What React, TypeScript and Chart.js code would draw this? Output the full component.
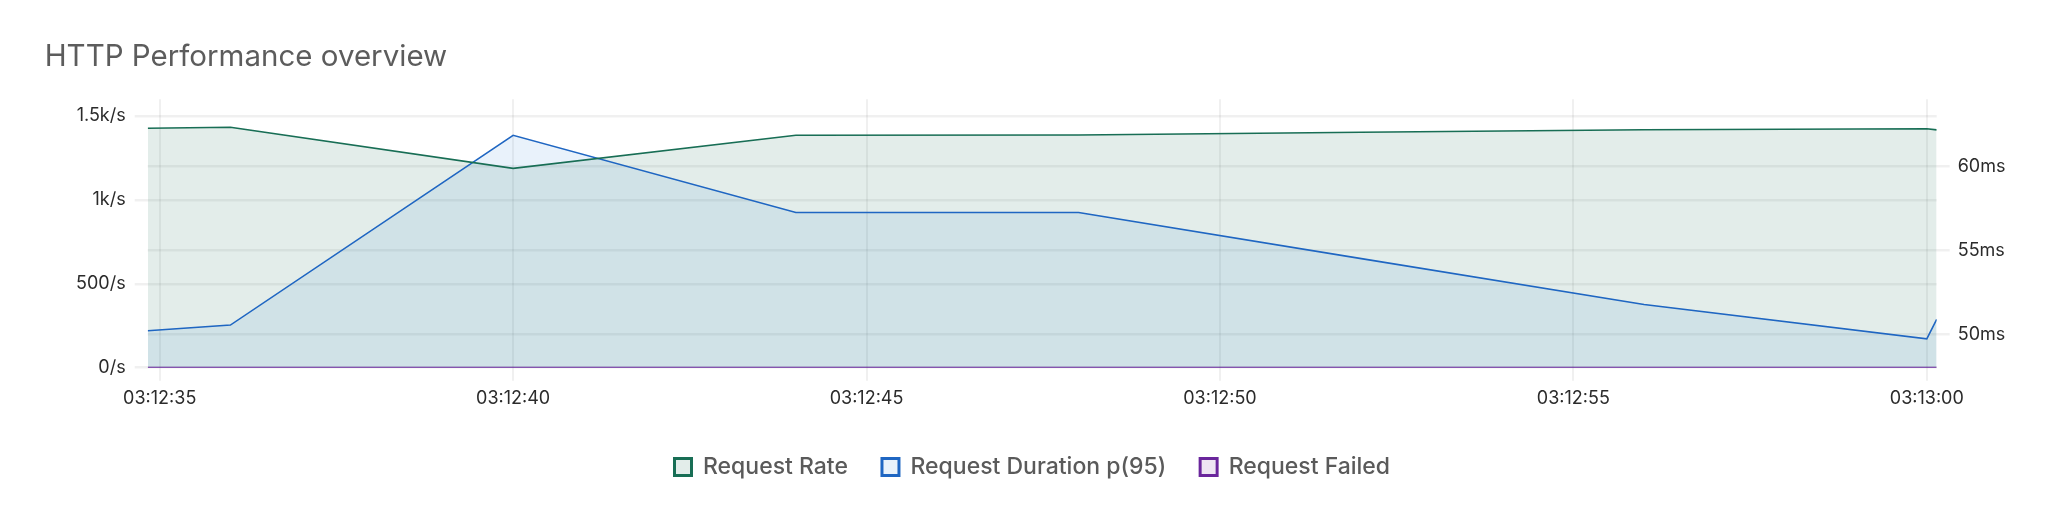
import { useEffect, useRef } from 'react';
import { Chart, registerables } from 'chart.js';

Chart.register(...registerables);

// seconds after 03:12:00
const timeSeconds = [34.83, 36, 40, 44, 48, 52, 56, 60, 60.14];
const requestRate = [1427, 1433, 1188, 1385, 1387, 1403, 1418, 1424, 1417];
const requestDurationP95 = [50.2, 50.54, 61.85, 57.25, 57.25, 54.5, 51.77, 49.72, 50.88];
const requestFailed = [0, 0, 0, 0, 0, 0, 0, 0, 0];

const timeTickValues = [35, 40, 45, 50, 55, 60];
const rateTickValues = [0, 500, 1000, 1500];
const durationTickValues = [50, 55, 60];

const seriesLabels = ['Request Rate', 'Request Duration p(95)', 'Request Failed'];
const chartTitle = 'HTTP Performance overview';

const FONT = 'Inter';
const LEGEND_PAD = 34;
const LEGEND_H = 82;

const pad2 = (n: number) => String(n).padStart(2, '0');
const fmtTime = (v: number) => {
  const total = 12 * 60 + Math.round(v);
  const m = Math.floor(total / 60);
  const s = total % 60;
  return `03:${pad2(m)}:${pad2(s)}`;
};
const fmtRate = (v: number) => {
  if (v === 0) return '0/s';
  if (v >= 1000) return `${v / 1000}k/s`;
  return `${v}/s`;
};
const fmtMs = (v: number) => `${v}ms`;

const toPoints = (vals: number[]) => vals.map((y, i) => ({ x: timeSeconds[i], y }));
const setTicks = (vals: number[]) => (s: any) => {
  s.ticks = vals.map((value) => ({ value }));
};

// fixes the legend's height and places its row where the reference has it
const legendPlacer = {
  id: 'legendPlacer',
  beforeLayout(chart: any) {
    const lg = chart.legend;
    if (lg && !lg.__patched) {
      const f = lg.fit;
      lg.fit = function () {
        f.call(this);
        this.height = LEGEND_H;
      };
      lg.__patched = true;
    }
  },
  afterLayout(chart: any) {
    const lg = chart.legend;
    if (!lg) return;
    const w = lg.right - lg.left;
    const lw = lg.lineWidths ? lg.lineWidths[0] : w;
    lg.left = (2 * 674.5 - w - LEGEND_PAD + lw) / 2;
    lg.right = lg.left + w;
    lg.top = 467 - LEGEND_PAD - 11.5;
    lg.bottom = lg.top + LEGEND_H;
    if (lg.adjustHitBoxes) lg.adjustHitBoxes();
  },
};

export default function App() {
  const ref = useRef<HTMLCanvasElement | null>(null);

  useEffect(() => {
    if (!ref.current) return;
    const tickFont = { family: FONT, size: 18 };
    const gridColor = 'rgba(0,0,0,0.06)';
    const chart = new Chart(ref.current, {
      type: 'line',
      data: {
        datasets: [
          {
            label: seriesLabels[0],
            data: toPoints(requestRate),
            borderColor: 'rgb(24,110,85)',
            backgroundColor: 'rgba(24,110,85,0.12)',
            borderWidth: 1.6,
            fill: 'origin',
            pointRadius: 0,
            tension: 0,
            yAxisID: 'y',
          },
          {
            label: seriesLabels[1],
            data: toPoints(requestDurationP95),
            borderColor: 'rgb(31,102,194)',
            backgroundColor: 'rgba(40,130,220,0.1)',
            borderWidth: 1.6,
            fill: 'origin',
            pointRadius: 0,
            tension: 0,
            yAxisID: 'y1',
          },
          {
            label: seriesLabels[2],
            data: toPoints(requestFailed),
            borderColor: 'rgb(106,38,156)',
            backgroundColor: 'rgba(112,40,160,0.12)',
            borderWidth: 2,
            fill: 'origin',
            pointRadius: 0,
            tension: 0,
            yAxisID: 'y',
          },
        ],
      },
      options: {
        animation: false,
        responsive: false,
        layout: { padding: { top: 0, left: 44.7, right: 11.3, bottom: 13.2 } },
        plugins: {
          filler: { drawTime: 'beforeDatasetsDraw' },
          title: {
            display: true,
            text: chartTitle,
            align: 'start',
            color: '#5c5c5c',
            font: { family: FONT, size: 29.5, weight: '400' },
            padding: { top: 39.5, bottom: 24.3 },
          },
          legend: {
            position: 'bottom',
            labels: {
              boxWidth: 17,
              boxHeight: 17,
              padding: LEGEND_PAD,
              color: '#5a5a5a',
              font: { family: FONT, size: 23, weight: '500' },
              generateLabels: (c: any) =>
                Chart.defaults.plugins.legend.labels.generateLabels(c).map((l: any) => ({ ...l, lineWidth: 3 })),
            },
          },
          tooltip: { enabled: false },
        },
        scales: {
          x: {
            type: 'linear',
            min: timeSeconds[0],
            max: timeSeconds[timeSeconds.length - 1],
            grid: { color: gridColor, lineWidth: 2, tickLength: 13 },
            border: { display: false },
            afterBuildTicks: setTicks(timeTickValues),
            afterFit: (s: any) => {
              s.height = 42.1;
            },
            ticks: {
              maxRotation: 0,
              autoSkip: false,
              padding: 7.5,
              color: '#2b2b2b',
              font: tickFont,
              callback: (v: any) => fmtTime(Number(v)),
            },
          },
          y: {
            position: 'left',
            min: 0,
            max: 1600,
            grid: { color: gridColor, lineWidth: 2.5, tickLength: 13 },
            border: { display: false },
            afterBuildTicks: setTicks(rateTickValues),
            ticks: {
              padding: 9,
              color: '#2b2b2b',
              font: tickFont,
              callback: (v: any) => fmtRate(Number(v)),
            },
            afterFit: (s: any) => {
              s.width = 103;
            },
          },
          y1: {
            position: 'right',
            min: 48,
            max: 64,
            grid: { color: gridColor, lineWidth: 2.5, tickLength: 13 },
            border: { display: false },
            afterBuildTicks: setTicks(durationTickValues),
            ticks: {
              padding: 8,
              color: '#2b2b2b',
              font: tickFont,
              callback: (v: any) => fmtMs(Number(v)),
            },
            afterFit: (s: any) => {
              s.width = 100;
            },
          },
        },
      },
      plugins: [legendPlacer],
    } as any);
    return () => chart.destroy();
  }, []);

  return (
    <div style={{ position: 'absolute', left: 0, top: 0, width: 2048, height: 505, background: '#fff' }}>
      <canvas ref={ref} width={2048} height={505} style={{ display: 'block' }} />
    </div>
  );
}
